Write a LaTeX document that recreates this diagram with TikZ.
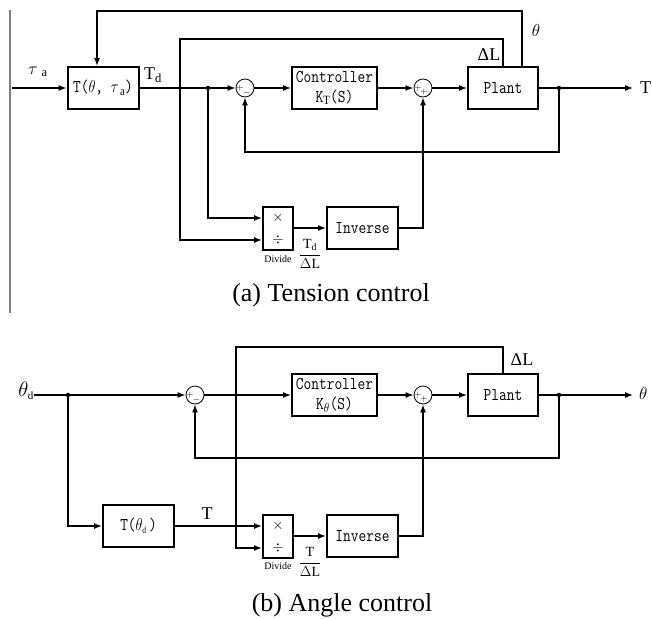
\documentclass[tikz,border=0pt]{standalone}
\usepackage{amsmath}
\usepackage{fontspec}
\setmainfont{Liberation Serif}
\usepackage{graphicx}
\usepackage{tikz}
\usetikzlibrary{positioning,calc,arrows.meta}

\newcommand{\bt}[1]{\scalebox{1}[1.2]{#1}}

\begin{document}
\begin{tikzpicture}[
    x=1pt, y=-1pt,
    block/.style={
        draw,
        line width=2pt,
        minimum width=71pt,
        minimum height=42pt,
        inner sep=1pt,
        align=center,
        font=\fontsize{15}{20}\selectfont\ttfamily
    },
    divblock/.style={
        draw,
        line width=2pt,
        minimum width=30pt,
        minimum height=43pt,
        inner sep=0pt
    },
    sumnode/.style={draw, circle, line width=0.8pt, minimum size=18pt, inner sep=0pt},
    arrow/.style={-{Latex[length=8pt,width=6pt]}, line width=1.3pt},
    junction/.style={circle, fill, inner sep=0pt, minimum size=4.5pt},
    sig/.style={font=\fontsize{9}{9}\selectfont, inner sep=0pt},
    opsign/.style={font=\fontsize{15}{15}\selectfont, inner sep=0pt},
    note/.style={font=\fontsize{18}{20}\selectfont, inner sep=0pt},
    small/.style={font=\fontsize{10}{11}\selectfont, inner sep=0pt},
    fracnote/.style={font=\fontsize{14}{16}\selectfont, inner sep=0pt},
    caption/.style={font=\fontsize{26}{28}\selectfont, inner sep=0pt}
]
\useasboundingbox (0,0) rectangle (652,618);

\draw[gray, line width=1.5pt] (10,10) -- (10,313);

\node[block] (tfun) at (103,88) {\bt{T($\theta$, $\tau_{\hspace{3pt}\mathrm{a}}$)}};
\node[sumnode] (sum1) at (245,88) {};
\node[block, minimum width=85pt] (ctrl1) at (334.5,88) {\bt{Controller}\\\bt{K$_{\mathrm{T}}$(S)}};
\node[sumnode] (sum2) at (423,88) {};
\node[block, minimum width=70pt] (plant1) at (503,88) {\bt{Plant}};
\node[divblock] (div1) at (278,228) {};
\node[block] (inv1) at (362.5,228) {\bt{Inverse}};

\node[sig] at ([xshift=-5pt]sum1.center) {$+$};
\node[sig] at ([xshift=1.5pt,yshift=-5pt]sum1.center) {$-$};
\node[sig] at ([xshift=-5pt]sum2.center) {$+$};
\node[sig] at ([xshift=1pt,yshift=-4.5pt]sum2.center) {$+$};
\node[opsign] at ([yshift=10pt]div1.center) {$\times$};
\node[opsign] at ([yshift=-12pt]div1.center) {$\div$};

\coordinate (in1) at (12,88);
\coordinate (out1) at (633,88);
\coordinate (dlc1) at (180,39);
\coordinate (div1up) at ([yshift=10pt]div1.west);
\coordinate (div1lo) at ([yshift=-12pt]div1.west);
\node[junction] (j1) at (208,88) {};
\node[junction] (j2) at (559,88) {};

\draw[arrow] (in1) -- (tfun.west);
\draw[arrow] (tfun.east) -- (sum1.west);
\draw[arrow] (sum1.east) -- (ctrl1.west);
\draw[arrow] (ctrl1.east) -- (sum2.west);
\draw[arrow] (sum2.east) -- (plant1.west);
\draw[arrow] (plant1.east) -- (out1);
\draw[arrow] (j2.center) -- ++(0,64) -| (sum1.south);
\draw[arrow] ([xshift=19pt]plant1.north) -- ++(0,-55) -| ([xshift=-6pt]tfun.north);
\draw[arrow] (plant1.north) |- (dlc1) |- (div1lo);
\draw[arrow] (j1.center) |- (div1up);
\draw[arrow] (div1.east) -- (inv1.west);
\draw[arrow] (inv1.east) -| (sum2.south);

\node[note] (taua) at (38,72) {$\tau_{\hspace{6pt}\mathrm{a}}$};
\node[note] (td) at (153,75) {T$_{\mathrm{d}}$};
\node[note] (dl1) at (489,55) {ΔL};
\node[note] (th1) at (536,31) {$\theta$};
\node[note, anchor=west] (tout) at (640,88) {T};
\node[small] (dv1) at (278,259) {Divide};
\node[fracnote] (fr1) at (310,254) {$\dfrac{\mathrm{T_d}}{\Delta\mathrm{L}}$};
\node[caption] (capa) at (331,295) {(a) Tension control};

\node[block] (tth) at (138.5,526) {\bt{T($\theta_{\scriptscriptstyle\mathrm{d}}$\,)}};
\node[sumnode] (sum3) at (195,395) {};
\node[block, minimum width=85pt] (ctrl2) at (334.5,395) {\bt{Controller}\\\bt{K$_{\theta}$(S)}};
\node[sumnode] (sum4) at (423,395) {};
\node[block, minimum width=70pt] (plant2) at (503,395) {\bt{Plant}};
\node[divblock] (div2) at (278,536) {};
\node[block] (inv2) at (362.5,536) {\bt{Inverse}};

\node[sig] at ([xshift=-5pt]sum3.center) {$+$};
\node[sig] at ([xshift=1.5pt,yshift=-5pt]sum3.center) {$-$};
\node[sig] at ([xshift=-5pt]sum4.center) {$+$};
\node[sig] at ([xshift=1pt,yshift=-4.5pt]sum4.center) {$+$};
\node[opsign] at ([yshift=10pt]div2.center) {$\times$};
\node[opsign] at ([yshift=-12pt]div2.center) {$\div$};

\node[anchor=east, inner sep=0pt, font=\fontsize{22}{24}\selectfont] (thd) at (34,391) {$\theta_{\scriptscriptstyle\mathrm{d}}$};
\coordinate (out2) at (633,395);
\coordinate (dlc2) at (236,347);
\coordinate (div2up) at ([yshift=10pt]div2.west);
\coordinate (div2lo) at ([yshift=-12pt]div2.west);
\node[junction] (j3) at (68,395) {};
\node[junction] (j4) at (559,395) {};

\draw[arrow] (thd.east |- sum3) -- (sum3.west);
\draw[arrow] (sum3.east) -- (ctrl2.west);
\draw[arrow] (ctrl2.east) -- (sum4.west);
\draw[arrow] (sum4.east) -- (plant2.west);
\draw[arrow] (plant2.east) -- (out2);
\draw[arrow] (j4.center) -- ++(0,63) -| (sum3.south);
\draw[arrow] (j3.center) |- (tth.west);
\draw[arrow] (tth.east) -- (div2up);
\draw[arrow] (plant2.north) |- (dlc2) |- (div2lo);
\draw[arrow] (div2.east) -- (inv2.west);
\draw[arrow] (inv2.east) -| (sum4.south);

\node[note] (tl) at (207,514) {T};
\node[note] (dl2) at (522,360) {ΔL};
\node[note, anchor=west, font=\fontsize{19}{21}\selectfont] (thout) at (639,393) {$\theta$};
\node[small] (dv2) at (278,566) {Divide};
\node[fracnote] (fr2) at (310,562) {$\dfrac{\mathrm{T}}{\Delta\mathrm{L}}$};
\node[caption] (capb) at (342,605) {(b) Angle control};

\end{tikzpicture}
\end{document}
